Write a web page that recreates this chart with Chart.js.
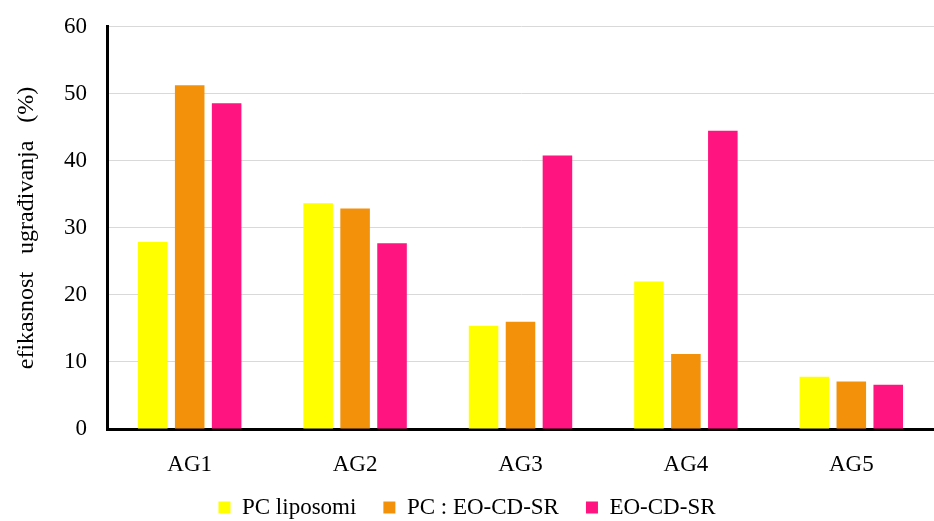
<!DOCTYPE html>
<html lang="sr">
<head>
    <meta charset="UTF-8">
    <title>Efikasnost ugrađivanja</title>
    <style>
        body { margin: 0; padding: 0; background: #fff; }
        .container { width: 934px; height: 521px; }
    </style>
</head>
<body>
    <div class="container">
        <canvas id="resultsChart" width="934" height="521"></canvas>
    </div>
    <script src="https://cdn.jsdelivr.net/npm/chart.js"></script>
    <script>
        // categories and series
        var categories = ['AG1', 'AG2', 'AG3', 'AG4', 'AG5'];
        var pcLiposomi = [27.9, 33.7, 15.4, 22.0, 7.8];
        var pcEoCdSr = [51.3, 32.9, 16.0, 11.2, 7.1];
        var eoCdSr = [48.6, 27.7, 40.8, 44.5, 6.6];
        var yTicks = [0, 10, 20, 30, 40, 50, 60];

        var serif = "'Liberation Serif', 'Times New Roman', serif";

        var ctx = document.getElementById('resultsChart').getContext('2d');
        var myChart = new Chart(ctx, {
            type: 'bar',
            data: {
                labels: categories,
                datasets: [
                    { label: 'PC liposomi', data: pcLiposomi, backgroundColor: '#ffff00' },
                    { label: 'PC : EO-CD-SR', data: pcEoCdSr, backgroundColor: '#f3920a' },
                    { label: 'EO-CD-SR', data: eoCdSr, backgroundColor: '#ff1480' }
                ]
            },
            options: {
                responsive: false,
                animation: false,
                categoryPercentage: 0.67,
                barPercentage: 0.8,
                layout: { padding: { top: -1, right: 0, bottom: -8, left: 0 } },
                plugins: {
                    tooltip: { enabled: false },
                    legend: {
                        position: 'bottom',
                        labels: {
                            color: '#000',
                            font: { family: serif, size: 23 },
                            boxWidth: 12,
                            boxHeight: 12,
                            padding: 4,
                            // wider gap between legend entries, like the original
                            generateLabels: function (chart) {
                                var items = Chart.defaults.plugins.legend.labels.generateLabels(chart);
                                items.forEach(function (item, i) {
                                    if (i < items.length - 1) item.text = item.text + '    ';
                                });
                                return items;
                            }
                        }
                    }
                },
                scales: {
                    x: {
                        grid: { display: false },
                        border: { display: true, color: '#000', width: 3 },
                        ticks: { color: '#000', font: { family: serif, size: 23, lineHeight: 1 }, padding: 16 }
                    },
                    y: {
                        min: 0,
                        max: 60,
                        afterBuildTicks: function (scale) {
                            scale.ticks = yTicks.map(function (v) { return { value: v }; });
                        },
                        afterFit: function (scale) { scale.width = 107; },
                        grid: { color: '#d9d9d9', lineWidth: 1, drawTicks: false },
                        border: { display: true, color: '#000', width: 3 },
                        ticks: { color: '#000', font: { family: serif, size: 23, lineHeight: 0.6 }, padding: 20 },
                        title: {
                            display: true,
                            text: 'efikasnost   ugrađivanja   (%)',
                            color: '#000',
                            font: { family: serif, size: 24 },
                            padding: { top: 12, bottom: 0 }
                        }
                    }
                }
            }
        });
    </script>
</body>
</html>
